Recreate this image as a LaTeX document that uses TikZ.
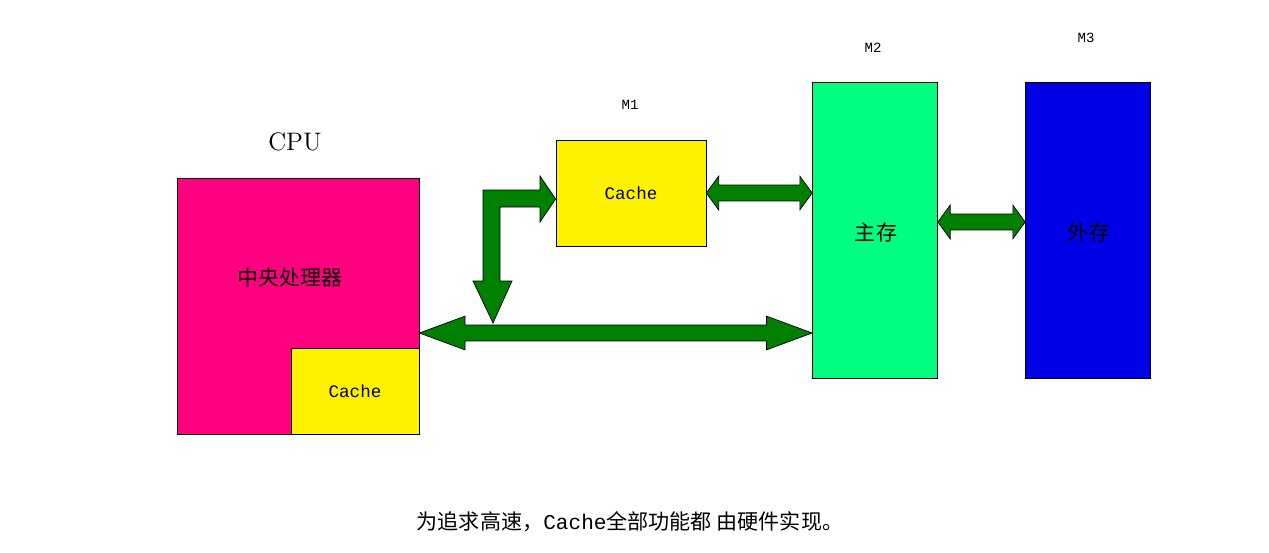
\documentclass[tikz,border=0pt]{standalone}
\usepackage{fontspec}
\newfontfamily\cjk{Noto Sans CJK SC}
\setmonofont{Liberation Mono}
\usetikzlibrary{calc}
\definecolor{cpured}{RGB}{255,0,128}
\definecolor{mainmem}{RGB}{0,255,128}
\definecolor{extmem}{RGB}{0,0,230}
\definecolor{busgreen}{RGB}{0,128,0}
\tikzset{
	box/.style={draw, thin, inner sep=0pt},
	bus/.style={fill=busgreen, draw=black, thin, line join=miter},
	lbl/.style={font=\ttfamily\footnotesize}
}
% horizontal double arrow between #1 and #2, head length #3
\newcommand{\dblbus}[3]{%
	\path[bus] let \p1=(#1), \p2=(#2) in
		(\x1,\y1) -- (\x1+#3,\y1+9.6pt) -- (\x1+#3,\y1+4.5pt) -- (\x2-#3,\y1+4.5pt)
		-- (\x2-#3,\y1+9.6pt) -- (\x2,\y1) -- (\x2-#3,\y1-9.6pt) -- (\x2-#3,\y1-4.5pt)
		-- (\x1+#3,\y1-4.5pt) -- (\x1+#3,\y1-9.6pt) -- cycle;}
\begin{document}
\begin{tikzpicture}[x=0.02cm, y=-0.02cm]
	\useasboundingbox (0,0) rectangle (1269,552);

	\node[box, fill=cpured, minimum width=242*0.02cm, minimum height=256*0.02cm] (cpu) at (298,306) {};
	\node[box, fill=yellow, minimum width=128*0.02cm, minimum height=86*0.02cm] (cache0) at (355,391) {\ttfamily Cache};
	\node[font=\cjk\large] (cpuname) at (290,277) {中央处理器};
	\node[font=\Large] (cputitle) at (295,142) {CPU};

	\node[box, fill=yellow, minimum width=150*0.02cm, minimum height=106*0.02cm] (m1) at (631,193) {\ttfamily Cache};
	\node[box, fill=mainmem, minimum width=125*0.02cm, minimum height=296*0.02cm] (m2) at (875,230) {};
	\node[box, fill=extmem, minimum width=125*0.02cm, minimum height=296*0.02cm] (m3) at (1088,230) {};
	\node[font=\cjk\large] (m2name) at (876,232) {主存};
	\node[font=\cjk\large] (m3name) at (1089,232) {外存};

	\node[lbl] (m1label) at (630,105) {M1};
	\node[lbl] (m2label) at (873,48) {M2};
	\node[lbl] (m3label) at (1086,38) {M3};

	\coordinate (busline) at (0,333);
	\coordinate (extline) at (0,222);

	\dblbus{cpu.east |- busline}{m2.west |- busline}{26pt}
	\dblbus{m1.east}{m2.west |- m1.east}{7pt}
	\dblbus{m2.east |- extline}{m3.west |- extline}{7pt}

	% bus to M1
	\path[bus] (493,323) -- (512,281) -- (500,281) -- (500,207) -- (540,207) -- (540,222)
		-- (m1.west |- 0,199) -- (540,176) -- (540,190) -- (483,190) -- (483,281) -- (473,281) -- cycle;

	\node[font=\cjk\large] (caption) at (630,522) {为追求高速，{\ttfamily Cache}全部功能都 由硬件实现。};
\end{tikzpicture}
\end{document}
